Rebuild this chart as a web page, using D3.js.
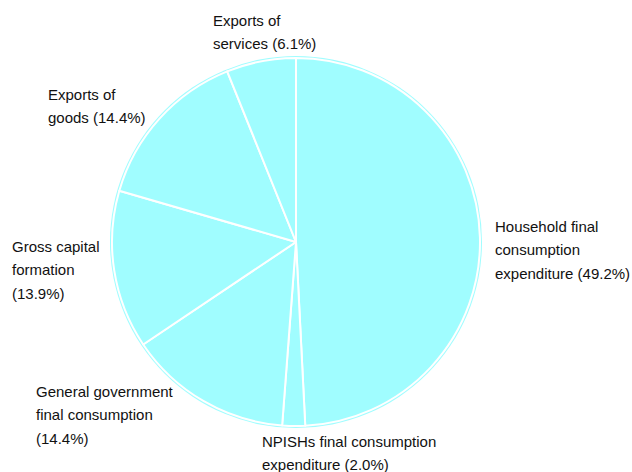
<!DOCTYPE html>
<html><head><meta charset="utf-8">
<script src="https://cdn.jsdelivr.net/npm/d3@7/dist/d3.min.js"></script>
<style>body{margin:0;background:#fff}svg{display:block}text{font-family:"Liberation Sans",Arial,sans-serif;font-size:15px;fill:#111}</style>
</head><body>
<svg id="c" width="632" height="472"></svg>
<script>
const categories = ["Household final consumption expenditure","NPISHs final consumption expenditure","General government final consumption","Gross capital formation","Exports of goods","Exports of services"];
const values = [49.2, 2.0, 14.4, 13.9, 14.4, 6.1];
const labelLines = [
  ["Household final","consumption","expenditure (49.2%)"],
  ["NPISHs final consumption","expenditure (2.0%)"],
  ["General government","final consumption","(14.4%)"],
  ["Gross capital","formation","(13.9%)"],
  ["Exports of","goods (14.4%)"],
  ["Exports of","services (6.1%)"]
];
const labelPos = [[495,232],[262,447],[36,397],[12,252],[48,100],[213,26]];

const svg = d3.select("#c");
const cx = 296, cy = 242, r = 184;
const g = svg.append("g").attr("transform", `translate(${cx},${cy})`);
const fill = "#a0fdff";
g.append("circle").attr("r", r + 2).attr("fill", fill);
const pie = d3.pie().sort(null).value(d => d)(values);
const arc = d3.arc().innerRadius(0).outerRadius(r);
g.selectAll("path").data(pie).join("path")
  .attr("d", arc).attr("fill", fill).attr("stroke", "#fff").attr("stroke-width", 2).attr("stroke-linejoin","round");

labelLines.forEach((lines, i) => {
  const t = svg.append("text").attr("x", labelPos[i][0]).attr("y", labelPos[i][1]);
  lines.forEach((l, j) => t.append("tspan").attr("x", labelPos[i][0]).attr("dy", j ? 23.3 : 0).text(l));
});
</script>
</body></html>
